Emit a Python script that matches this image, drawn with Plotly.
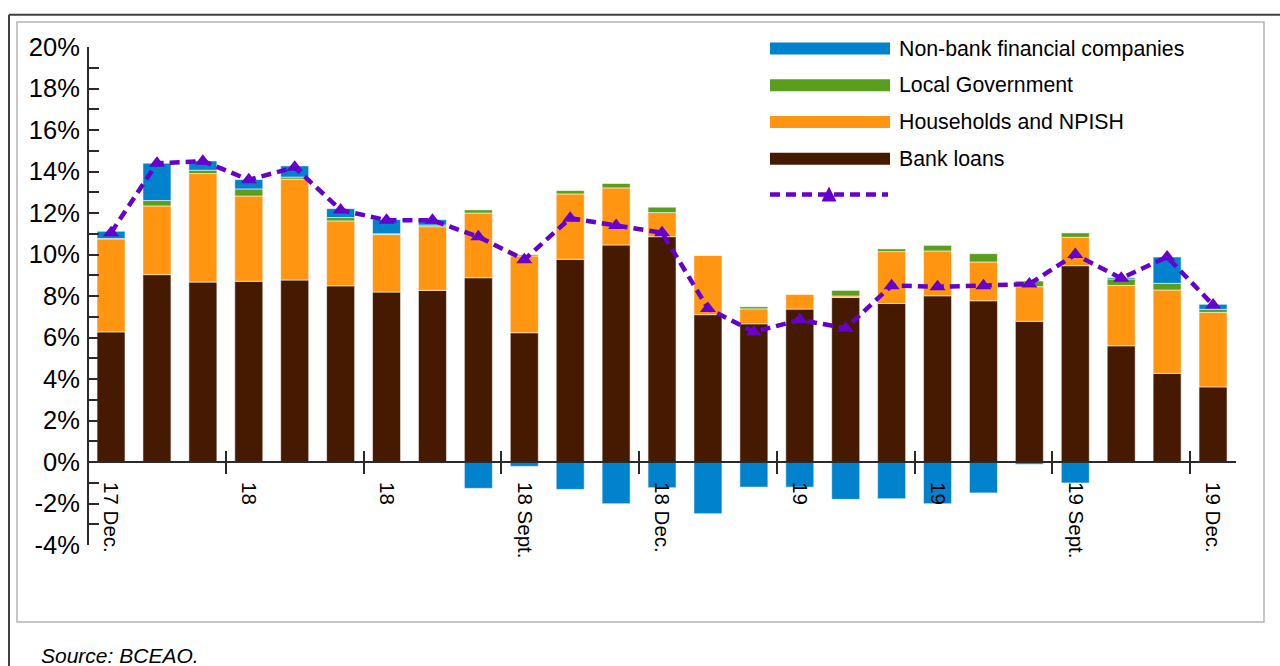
import plotly.graph_objects as go

# ---------------- data ----------------
x_pos = list(range(25))
tick_pos = [0, 3, 6, 9, 12, 15, 18, 21, 24]
tick_text = ["17 Dec.", "18", "18", "18 Sept.", "18 Dec.", "19", "19", "19 Sept.", "19 Dec."]
y_ticks = [-4, -2, 0, 2, 4, 6, 8, 10, 12, 14, 16, 18, 20]
y_tick_text = ["-4%", "-2%", "0%", "2%", "4%", "6%", "8%", "10%", "12%", "14%", "16%", "18%", "20%"]

series_names = ["Non-bank financial companies", "Local Government", "Households and NPISH", "Bank loans"]

bank_loans = [6.27, 9.03, 8.67, 8.71, 8.77, 8.49, 8.19, 8.27, 8.88, 6.23, 9.77, 10.46, 10.86,
              7.10, 6.66, 7.37, 7.93, 7.64, 8.01, 7.77, 6.78, 9.46, 5.60, 4.27, 3.62]
households = [4.48, 3.31, 5.23, 4.11, 4.86, 3.13, 2.77, 3.07, 3.12, 3.70, 3.15, 2.75, 1.16,
              2.86, 0.72, 0.72, 0.07, 2.50, 2.16, 1.87, 1.67, 1.37, 2.91, 4.02, 3.59]
local_gov = [0.02, 0.26, 0.16, 0.34, 0.10, 0.16, 0.04, 0.08, 0.15, 0.06, 0.16, 0.21, 0.26,
             0.00, 0.10, 0.00, 0.27, 0.13, 0.27, 0.40, 0.27, 0.21, 0.31, 0.32, 0.15]
non_bank = [0.35, 1.80, 0.45, 0.45, 0.54, 0.43, 0.68, 0.26, -1.27, -0.21, -1.32, -2.01, -1.24,
            -2.49, -1.21, -1.21, -1.80, -1.77, -2.01, -1.49, -0.11, -1.01, 0.06, 1.27, 0.24]
total = [11.05, 14.40, 14.50, 13.60, 14.20, 12.15, 11.65, 11.65, 10.85, 9.75, 11.75, 11.40, 11.05,
         7.40, 6.27, 6.85, 6.45, 8.50, 8.45, 8.50, 8.58, 10.00, 8.85, 9.88, 7.57]

source_text = "Source: BCEAO."

# ---------------- style ----------------
C_BLUE = "#0082CD"
C_GREEN = "#599E1E"
C_ORANGE = "#FF9510"
C_BROWN = "#461A00"
C_PURPLE = "#6600CC"
FONT = "Arial, 'Liberation Sans', sans-serif"

W, H = 1280, 666
L, R, T, B = 89, 44, 47, 121
PW, PH = W - L - R, H - T - B


def px(x):
    return (x - L) / PW


def py(y):
    return (H - B - y) / PH


fig = go.Figure()
edge = dict(color="rgba(255,255,255,0.55)", width=1)
for vals, col, name in [(bank_loans, C_BROWN, series_names[3]),
                        (households, C_ORANGE, series_names[2]),
                        (local_gov, C_GREEN, series_names[1]),
                        (non_bank, C_BLUE, series_names[0])]:
    fig.add_trace(go.Bar(x=x_pos, y=vals, name=name, marker=dict(color=col, line=edge),
                         width=0.61, showlegend=False))

fig.add_trace(go.Scatter(x=x_pos, y=total, mode="lines+markers", xaxis="x2",
                         line=dict(color=C_PURPLE, width=4.5, dash="10px,6px"),
                         marker=dict(symbol="triangle-up", size=14, color=C_PURPLE),
                         showlegend=False))

zero_pos = (0 - y_ticks[0]) / (y_ticks[-1] - y_ticks[0])
xr = [-0.48, 24.5]

shapes = [
    # outer frame (top + left)
    dict(type="line", xref="paper", yref="paper", x0=px(9), x1=px(1280), y0=py(14.7), y1=py(14.7),
         line=dict(color="#404040", width=2)),
    dict(type="line", xref="paper", yref="paper", x0=px(9), x1=px(9), y0=py(14.7), y1=py(680),
         line=dict(color="#404040", width=2)),
    # inner frame
    dict(type="rect", xref="paper", yref="paper", x0=px(17), x1=px(1264), y0=py(622), y1=py(22),
         line=dict(color="#B4B4B4", width=1.5)),
]

annotations = []
legend_colors = [C_BLUE, C_GREEN, C_ORANGE, C_BROWN]
leg_y = [48.5, 85.3, 122.0, 158.7]
for name, col, yc in zip(series_names, legend_colors, leg_y):
    shapes.append(dict(type="rect", xref="paper", yref="paper", x0=px(770), x1=px(890),
                       y0=py(yc + 6), y1=py(yc - 6), fillcolor=col, line=dict(width=0)))
    annotations.append(dict(text=name, xref="paper", yref="paper", x=px(897), y=py(yc),
                            xanchor="left", yanchor="middle", showarrow=False,
                            font=dict(family=FONT, size=21.3, color="#000")))
# legend entry for the line
ly = 194.5
shapes.append(dict(type="line", xref="paper", yref="paper", x0=px(770), x1=px(888), y0=py(ly), y1=py(ly),
                   line=dict(color=C_PURPLE, width=4.5, dash="10px,6px")))
tx = 829
shapes.append(dict(type="path", xref="paper", yref="paper",
                   path=f"M {px(tx - 7.5)} {py(ly + 7)} L {px(tx + 7.5)} {py(ly + 7)} L {px(tx)} {py(ly - 8)} Z",
                   fillcolor=C_PURPLE, line=dict(width=0)))

annotations.append(dict(text=source_text, xref="paper", yref="paper", x=px(39), y=py(655),
                        xanchor="left", yanchor="middle", showarrow=False,
                        font=dict(family=FONT, size=21, color="#000", style="italic")))

fig.update_layout(
    width=W, height=H,
    margin=dict(l=L, r=R, t=T, b=B, pad=0),
    paper_bgcolor="white", plot_bgcolor="white",
    barmode="relative",
    showlegend=False,
    font=dict(family=FONT, color="#000"),
    shapes=shapes,
    annotations=annotations,
    xaxis=dict(range=xr, domain=[0, 1], anchor="free", position=zero_pos,
               tickmode="array", tickvals=tick_pos, ticktext=tick_text, tickangle=90,
               ticks="", ticklabelstandoff=15,
               tickfont=dict(family=FONT, size=20.5, color="#000"),
               showline=True, linecolor="#2a2a2a", linewidth=2,
               showgrid=False, zeroline=False,
               minor=dict(tickmode="linear", tick0=2.5, dtick=3, ticks="outside",
                          ticklen=11, tickwidth=2, tickcolor="#2a2a2a", showgrid=False)),
    xaxis2=dict(range=xr, overlaying="x", matches="x", anchor="free", position=zero_pos,
                tickmode="linear", tick0=2.5, dtick=3, ticks="inside", ticklen=11, tickwidth=2,
                tickcolor="#2a2a2a", showticklabels=False, showline=False, showgrid=False,
                zeroline=False),
    yaxis=dict(range=[y_ticks[0], y_ticks[-1]], domain=[0, 1], anchor="x",
               tickmode="array", tickvals=y_ticks, ticktext=y_tick_text,
               ticks="inside", ticklen=10, tickwidth=2, tickcolor="#2a2a2a",
               ticklabelstandoff=2,
               tickfont=dict(family=FONT, size=25.5, color="#000"),
               showline=True, linecolor="#2a2a2a", linewidth=2,
               showgrid=False, zeroline=False,
               minor=dict(tickmode="linear", tick0=0, dtick=1, ticks="inside", ticklen=10,
                          tickwidth=2, tickcolor="#2a2a2a", showgrid=False)),
)

fig.write_html("out.html", config={"displayModeBar": False},
               post_script="document.body.style.margin='0px';document.body.style.overflow='hidden';")
